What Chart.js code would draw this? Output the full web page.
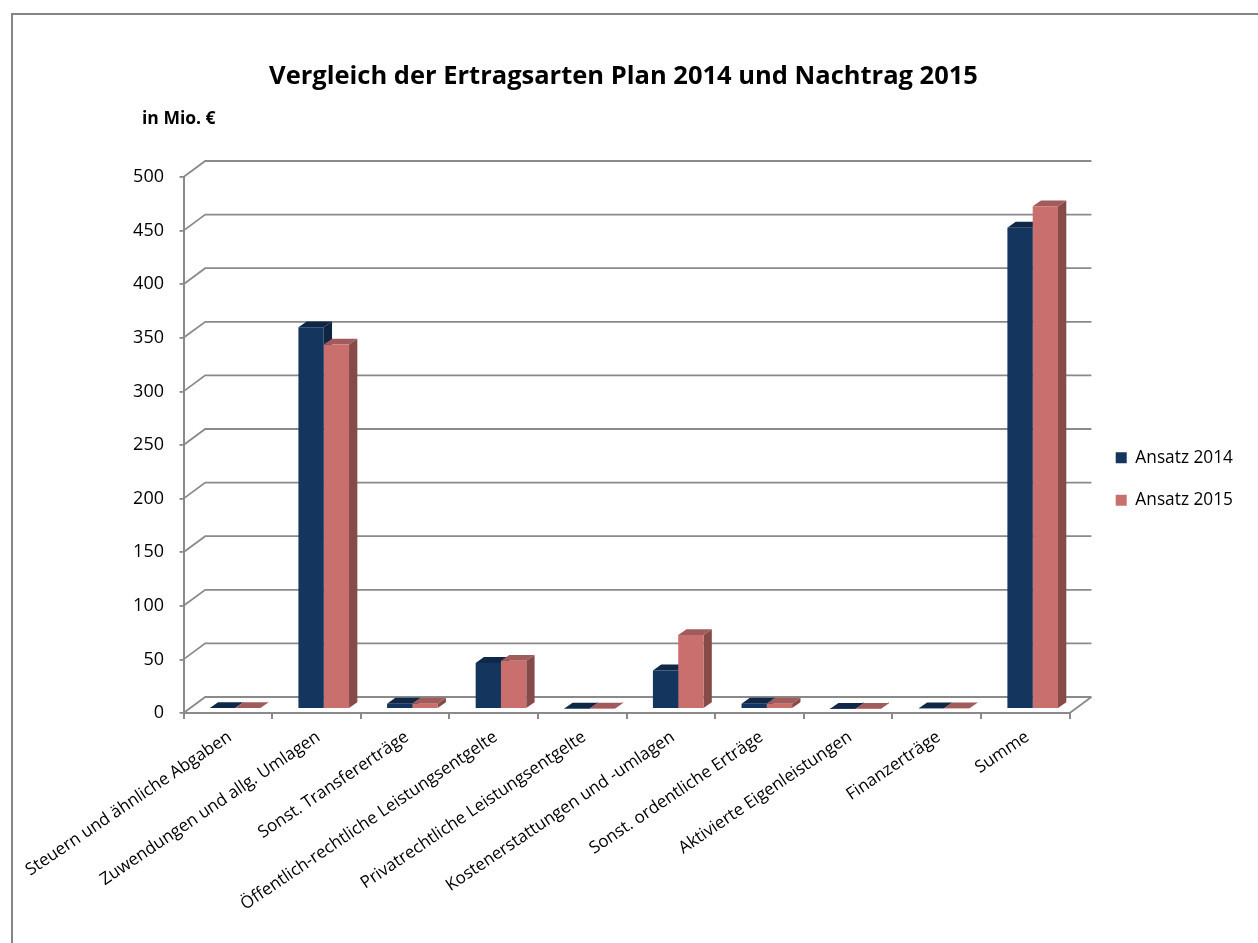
<!DOCTYPE html>
<html lang="de">
<head>
<meta charset="utf-8">
<title>Vergleich der Ertragsarten</title>
<script src="https://cdn.jsdelivr.net/npm/chart.js@4"></script>
<style>
  html, body { margin: 0; padding: 0; background: #fff; overflow: hidden; }
  #frame { position: absolute; left: 11px; top: 13px; right: 0; bottom: 0; border-left: 2px solid #868686; border-top: 2px solid #868686; }
  #wrap { position: absolute; left: 0; top: 15px; width: 1242px; height: 928px; }
</style>
</head>
<body>
<div id="frame"></div>
<div id="wrap"><canvas id="chart"></canvas></div>
<script>
const categories = [
  "Steuern und ähnliche Abgaben",
  "Zuwendungen und allg. Umlagen",
  "Sonst. Transfererträge",
  "Öffentlich-rechtliche Leistungsentgelte",
  "Privatrechtliche Leistungsentgelte",
  "Kostenerstattungen und -umlagen",
  "Sonst. ordentliche Erträge",
  "Aktivierte Eigenleistungen",
  "Finanzerträge",
  "Summe"
];
const ansatz2014 = [1, 356, 5, 43, 0.5, 36, 5, 0.3, 0.7, 449];
const ansatz2015 = [1, 340, 5, 45, 0.5, 69, 5, 0.3, 0.7, 469];

const fontName = '"Open Sans", "Noto Sans", sans-serif';
const gridColor = "#8a8a8a";

// depth of the fake 3d box and how far the bars sit inside of it
const wallX = 21.7, wallY = 16;
const barX = 7.3, barY = 4;
const barDepthX = 8.3, barDepthY = 5.8;
const legendShift = 21;

function drawFaces(ctx, bar, side, top) {
  const l = bar.x - bar.width / 2, r = bar.x + bar.width / 2;
  ctx.fillStyle = side;
  ctx.beginPath();
  ctx.moveTo(r, bar.base);
  ctx.lineTo(r + barDepthX, bar.base - barDepthY);
  ctx.lineTo(r + barDepthX, bar.y - barDepthY);
  ctx.lineTo(r, bar.y);
  ctx.closePath();
  ctx.fill();
  ctx.fillStyle = top;
  ctx.beginPath();
  ctx.moveTo(l, bar.y);
  ctx.lineTo(l + barDepthX, bar.y - barDepthY);
  ctx.lineTo(r + barDepthX, bar.y - barDepthY);
  ctx.lineTo(r, bar.y);
  ctx.closePath();
  ctx.fill();
}

const fake3d = {
  id: "fake3d",
  afterLayout(chart) {
    // legend sits further right than the layout would put it
    chart.legend.left += legendShift;
    chart.legend.right += legendShift;
  },
  beforeDatasetsDraw(chart) {
    const { ctx, chartArea: a, scales: { y } } = chart;
    ctx.save();
    ctx.strokeStyle = gridColor;
    ctx.lineWidth = 1.8;
    y.ticks.forEach(t => {
      const py = y.getPixelForValue(t.value);
      ctx.beginPath();
      ctx.moveTo(a.left, py);
      ctx.lineTo(a.left + wallX, py - wallY);
      ctx.lineTo(a.right + wallX, py - wallY);
      ctx.stroke();
    });
    const py0 = y.getPixelForValue(0);
    ctx.beginPath();
    ctx.moveTo(a.right, py0);
    ctx.lineTo(a.right + wallX, py0 - wallY);
    ctx.stroke();
    ctx.restore();
    // everything the bars draw from here is moved into the box
    ctx.save();
    ctx.translate(barX, -barY);
    // sides and tops go first, the library paints the front faces over them
    categories.forEach((c, i) => {
      chart.data.datasets.forEach((ds, d) => {
        drawFaces(ctx, chart.getDatasetMeta(d).data[i], ds.sideColor, ds.topColor);
      });
    });
  },
  afterDatasetsDraw(chart) {
    const { ctx } = chart;
    ctx.restore();
    ctx.save();
    ctx.fillStyle = "#000";
    ctx.font = 'bold 17.5px ' + fontName;
    ctx.textBaseline = "middle";
    ctx.fillText("in Mio. €", 142, 104);
    ctx.restore();
  }
};

new Chart(document.getElementById("chart"), {
  type: "bar",
  data: {
    labels: categories,
    datasets: [
      { label: "Ansatz 2014", data: ansatz2014, backgroundColor: "#14355d", sideColor: "#0e2642", topColor: "#0f2847" },
      { label: "Ansatz 2015", data: ansatz2015, backgroundColor: "#c9706f", sideColor: "#864a49", topColor: "#a05b5a" }
    ]
  },
  options: {
    responsive: true,
    maintainAspectRatio: false,
    animation: false,
    categoryPercentage: 0.571,
    barPercentage: 1,
    layout: { padding: { left: 25, right: 20 } },
    scales: {
      x: {
        offset: true,
        afterFit(scale) { scale.height = 230; },
        grid: { offset: true, drawOnChartArea: false, color: gridColor, lineWidth: 2, tickLength: 6 },
        border: { color: gridColor, width: 2 },
        ticks: { minRotation: 34, maxRotation: 34, autoSkip: false, color: "#000", padding: 8, labelOffset: 2, font: { family: fontName, size: 17 } }
      },
      y: {
        min: 0,
        max: 500,
        afterFit(scale) { scale.width = 158.5; },
        grid: { drawOnChartArea: false, color: gridColor, lineWidth: 1.8, tickLength: 4 },
        border: { color: gridColor, width: 2 },
        ticks: { stepSize: 50, color: "#000", padding: 15.5, font: { family: fontName, size: 18 } }
      }
    },
    plugins: {
      title: {
        display: true,
        text: "Vergleich der Ertragsarten Plan 2014 und Nachtrag 2015",
        color: "#000",
        font: { family: fontName, size: 25.5, weight: "bold" },
        padding: { top: 46, bottom: 85.4 }
      },
      legend: {
        position: "right",
        labels: { boxWidth: 11, boxHeight: 11, padding: 25, color: "#000", font: { family: fontName, size: 17.3 } }
      },
      tooltip: { enabled: false }
    }
  },
  plugins: [fake3d]
});
</script>
</body>
</html>
